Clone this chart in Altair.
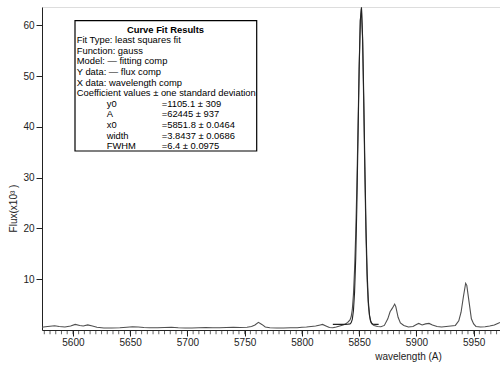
import altair as alt
import pandas as pd

# Spectrum (flux comp), flux in units of 10^3
wavelength = [5573, 5576, 5580, 5584, 5588, 5593, 5598, 5602, 5606, 5609, 5613, 5617, 5621, 5627, 5634,
              5641, 5647, 5652, 5657, 5662, 5667, 5674, 5680, 5686, 5692, 5698, 5704, 5710, 5716, 5722,
              5728, 5734, 5740, 5746, 5752, 5756, 5759, 5762, 5765, 5768, 5772, 5778, 5784, 5790, 5796,
              5800, 5804, 5808, 5812, 5816, 5818, 5821, 5824, 5827, 5830, 5833, 5836, 5838, 5840, 5842,
              5843, 5844, 5845, 5846, 5847, 5848, 5849, 5850, 5851, 5852, 5853, 5854, 5855, 5856, 5857,
              5858, 5859, 5860, 5861, 5863, 5866, 5869, 5872, 5875, 5877, 5879, 5881, 5882, 5884, 5886,
              5889, 5893, 5897, 5900, 5902, 5905, 5908, 5911, 5914, 5918, 5922, 5926, 5930, 5934, 5937,
              5939, 5941, 5943, 5944, 5946, 5948, 5950, 5952, 5956, 5960, 5964, 5968, 5971, 5973]
flux = [0.55, 0.65, 0.75, 0.85, 0.7, 0.6, 0.8, 1.1, 0.9, 0.8, 1.0, 0.8, 0.55, 0.4, 0.4,
        0.45, 0.55, 0.65, 0.6, 0.5, 0.45, 0.45, 0.5, 0.55, 0.45, 0.4, 0.4, 0.45, 0.5, 0.45,
        0.45, 0.5, 0.55, 0.5, 0.55, 0.7, 1.0, 1.5, 1.1, 0.6, 0.45, 0.4, 0.4, 0.45, 0.45,
        0.55, 0.6, 0.7, 0.8, 1.0, 1.1, 0.8, 0.5, 0.45, 0.6, 0.8, 1.0, 1.2, 1.5, 2.0,
        2.6, 4.0, 7.0, 12.0, 19.0, 28.5, 40.0, 52.0, 61.0, 63.6, 57.0, 44.0, 30.0, 18.0, 9.5,
        5.0, 2.8, 1.6, 1.2, 0.9, 0.7, 0.65, 0.9, 2.2, 3.6, 4.3, 5.1, 4.6, 2.5, 1.4,
        0.9, 0.6, 0.7, 1.1, 1.3, 1.0, 1.2, 1.3, 1.0, 0.7, 0.6, 0.7, 0.8, 0.9, 1.8,
        3.5, 6.5, 9.2, 8.8, 5.5, 2.2, 1.2, 0.7, 0.6, 0.65, 0.8, 1.0, 1.3, 1.5]

# Fitted curve (fitting comp)
fit_wavelength = [5827, 5830, 5834, 5838, 5840, 5842, 5843, 5844, 5845, 5846, 5847, 5848, 5849, 5850,
                  5851, 5852, 5853, 5854, 5855, 5856, 5857, 5858, 5859, 5860, 5861, 5862, 5864, 5867]
fit_flux = [1.1, 1.1, 1.1, 1.1, 1.12, 1.2, 1.43, 2.1, 3.8, 7.5, 14.2, 24.6, 37.8, 51.3,
            60.9, 63.4, 57.7, 46.1, 32.3, 20.0, 11.1, 5.7, 3.0, 1.8, 1.35, 1.16, 1.11, 1.1]

x_major = [5600, 5650, 5700, 5750, 5800, 5850, 5900, 5950]
x_minor = list(range(5575, 5975, 5))
y_ticks = [10, 20, 30, 40, 50, 60]

legend_title = "Curve Fit Results"
legend_lines = ["Fit Type: least squares fit", "Function: gauss", "Model: — fitting comp",
                "Y data: — flux comp", "X data: wavelength comp",
                "Coefficient values ± one standard deviation"]
coef_names = ["y0", "A", "x0", "width", "FWHM"]
coef_values = ["=1105.1 ± 309", "=62445 ± 937", "=5851.8 ± 0.0464", "=3.8437 ± 0.0686", "=6.4 ± 0.0975"]

FONT = "Liberation Sans"
W, H = 458, 323
LFS = 9.4

spec_df = pd.DataFrame({"wavelength": wavelength, "flux": flux})
fit_df = pd.DataFrame({"wavelength": fit_wavelength, "flux": fit_flux})
minor_df = pd.DataFrame({"wavelength": x_minor})

xscale = alt.Scale(domain=[5573, 5973], nice=False, zero=False)
yscale = alt.Scale(domain=[0, 63.6], nice=False, zero=False)

xaxis = alt.Axis(values=x_major, grid=False, format="d", tickSize=6, labelPadding=1,
                 title="wavelength (A)", titleX=366, titleY=26, titleAlign="center",
                 titleBaseline="middle", titleFontWeight="normal", titleFontSize=10,
                 titleFont=FONT, labelFont=FONT, labelFontSize=10, labelColor="#222",
                 titleColor="#222", domainColor="#222", tickColor="#222")
xenc = alt.X("wavelength:Q", scale=xscale, axis=xaxis)

yenc = alt.Y("flux:Q", scale=yscale,
             axis=alt.Axis(values=y_ticks, tickSize=6, labelPadding=2, grid=False,
                           title="Flux(x10³ )", titleX=-29, titleY=201, titleAngle=270,
                           titleAlign="center", titleBaseline="middle",
                           titleFontWeight="normal", titleFontSize=10, titleFont=FONT,
                           labelFont=FONT, labelFontSize=10, labelColor="#222",
                           titleColor="#222", domainColor="#222", tickColor="#222"))

spec = alt.Chart(spec_df).mark_line(color="#4f4f4f", strokeWidth=1.1).encode(x=xenc, y=yenc)
fit = alt.Chart(fit_df).mark_line(color="#222222", strokeWidth=1.1).encode(x=xenc, y=yenc)
minor = alt.Chart(minor_df).mark_tick(color="#222", thickness=1, size=4, orient="vertical").encode(
    x=xenc, y=alt.value(H + 2.2))

one = alt.Data(values=[{}])
layers = [spec, fit, minor]

box = alt.Chart(one).mark_rect(fill="white", stroke="black", strokeWidth=1.2).encode(
    x=alt.value(33), x2=alt.value(214.7), y=alt.value(13.7), y2=alt.value(144))
layers.append(box)

layers.append(alt.Chart(one).mark_text(text=legend_title, font=FONT, fontSize=LFS, fontWeight="bold",
                                       align="center", baseline="middle", color="black").encode(
    x=alt.value(123.5), y=alt.value(22.5)))

y0 = 22.5
step = 10.6
for i, t in enumerate(legend_lines):
    layers.append(alt.Chart(one).mark_text(text=t, font=FONT, fontSize=LFS, align="left",
                                           baseline="middle", color="black").encode(
        x=alt.value(34.7), y=alt.value(y0 + step * (i + 1))))
for j, (n, v) in enumerate(zip(coef_names, coef_values)):
    yy = y0 + step * (len(legend_lines) + 1 + j)
    layers.append(alt.Chart(one).mark_text(text=n, font=FONT, fontSize=LFS, align="left",
                                           baseline="middle", color="black").encode(
        x=alt.value(64.7), y=alt.value(yy)))
    layers.append(alt.Chart(one).mark_text(text=v, font=FONT, fontSize=LFS, align="left",
                                           baseline="middle", color="black").encode(
        x=alt.value(119.7), y=alt.value(yy)))

chart = alt.layer(*layers).properties(
    width=W, height=H,
    autosize=alt.AutoSizeParams(type="none"),
    padding={"left": 42, "top": 7, "right": 0, "bottom": 37},
).configure_view(stroke=None).configure(background="white")

chart.save("out.html", embed_options={"renderer": "svg", "actions": False})
